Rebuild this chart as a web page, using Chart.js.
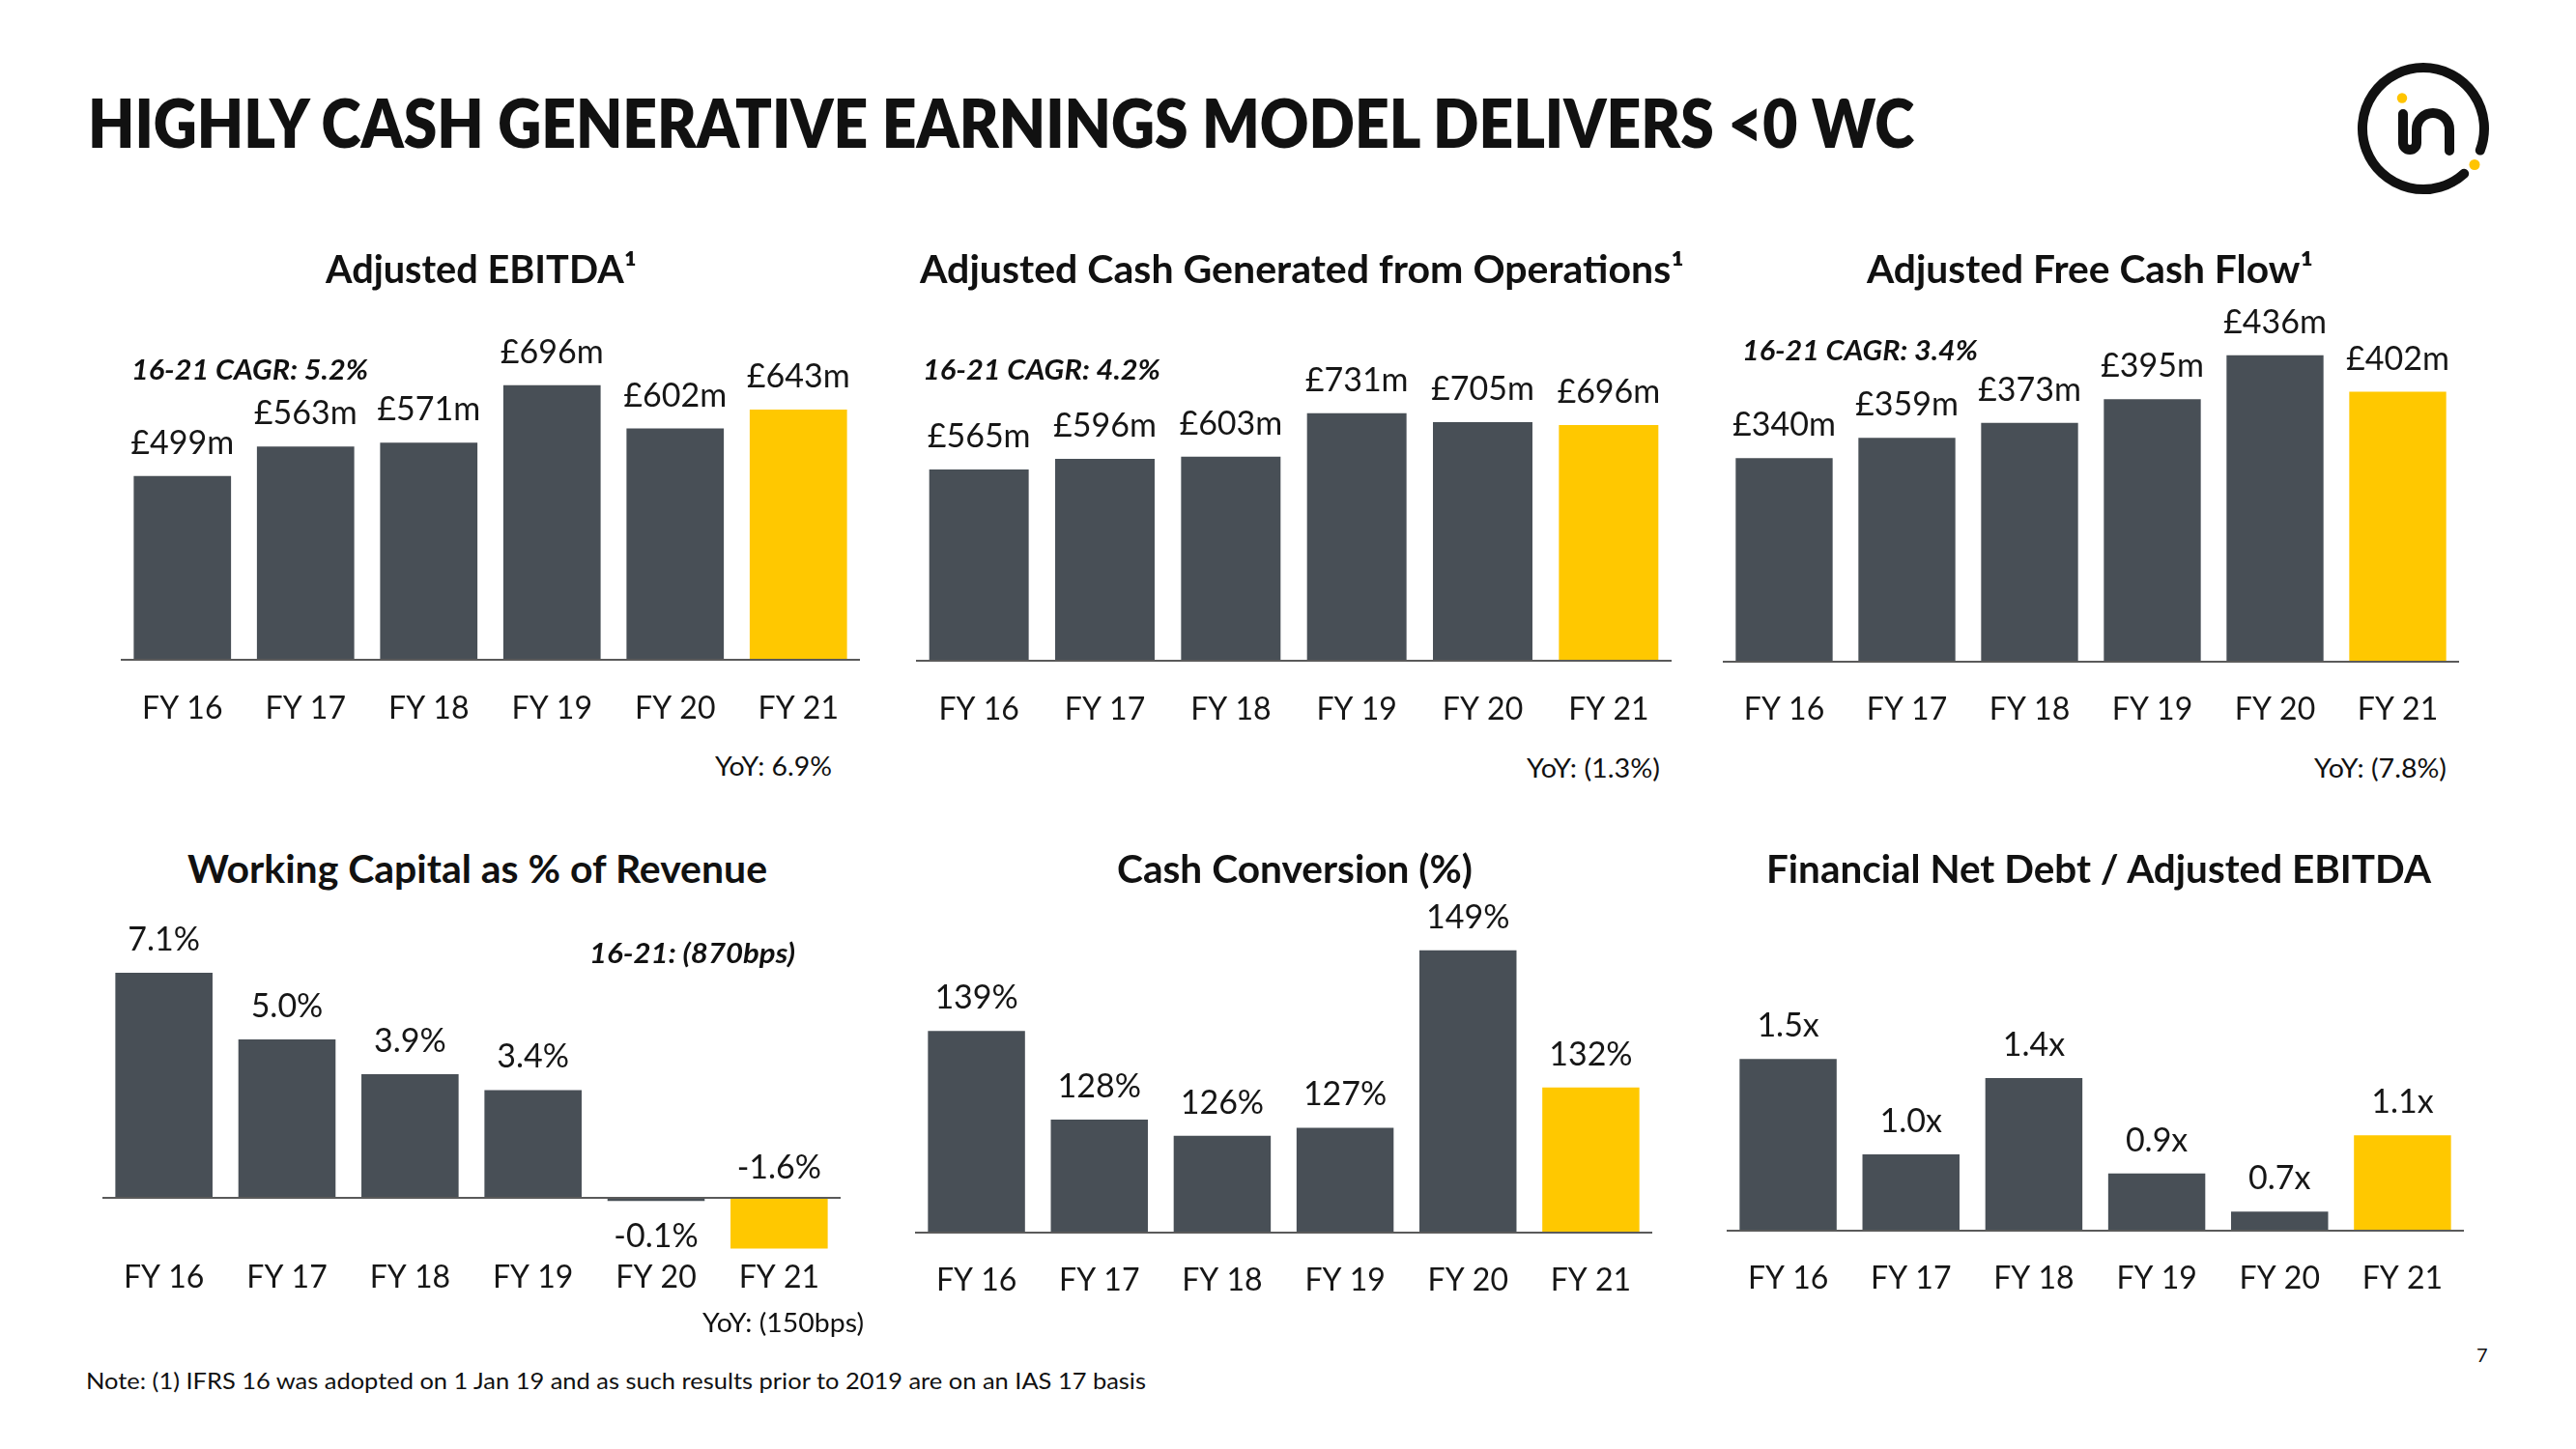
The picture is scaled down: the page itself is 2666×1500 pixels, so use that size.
<!DOCTYPE html>
<html><head><meta charset="utf-8">
<script src="https://cdn.jsdelivr.net/npm/chart.js@4.4.0/dist/chart.umd.min.js"></script>
<style>
html,body{margin:0;padding:0;background:#fff;}
#page{position:relative;width:2666px;height:1500px;overflow:hidden;background:#fff;font-family:Lato,'Open Sans',sans-serif;color:#111;}
.t{position:absolute;white-space:nowrap;line-height:1;transform-origin:0 0;}
canvas{position:absolute;}
</style></head><body><div id="page">
<svg style="position:absolute;left:2430px;top:55px" width="160" height="160" viewBox="2430 55 160 160">
<path d="M2550.2,179.8 A63,63 0 1,1 2566.8,155.6" fill="none" stroke="#111" stroke-width="10" stroke-linecap="round"/>
<path d="M2487,118 V148 A7,7 0 0,0 2501,148 V134 A17,17 0 0,1 2535,134 V156" fill="none" stroke="#111" stroke-width="10" stroke-linecap="round" stroke-linejoin="round"/>
<circle cx="2486" cy="101.5" r="5.2" fill="#FFC400"/>
<circle cx="2561" cy="170.5" r="5.5" fill="#FFC400"/>
</svg>
<canvas id="c1" width="765" height="463" style="left:125px;top:300px"></canvas>
<canvas id="c2" width="782" height="464" style="left:948px;top:300px"></canvas>
<canvas id="c3" width="762" height="465" style="left:1783px;top:300px"></canvas>
<canvas id="c4" width="764" height="450" style="left:106px;top:930px"></canvas>
<canvas id="c5" width="763" height="436" style="left:947px;top:920px"></canvas>
<canvas id="c6" width="763" height="434" style="left:1787px;top:920px"></canvas>
</div>
<script>
// ---- data ----
const categories = ['FY 16','FY 17','FY 18','FY 19','FY 20','FY 21'];
const ebitda = [499, 563, 571, 696, 602, 643];
const cashFromOps = [565, 596, 603, 731, 705, 696];
const freeCashFlow = [340, 359, 373, 395, 436, 402];
const workingCapitalPct = [7.1, 5.0, 3.9, 3.4, -0.1, -1.6];
const cashConversionPct = [139, 128, 126, 127, 149, 132];
const netDebtToEbitda = [1.5, 1.0, 1.4, 0.9, 0.7, 1.1];

const GRAY = '#484F56', YELLOW = '#FFC800', INK = '#161616';

// ---- static text ----
const page = document.getElementById('page');
function addText(str, x, cy, w, size, weight, style) {
  const s = document.createElement('span');
  s.className = 't';
  s.textContent = str;
  s.style.fontSize = size + 'px';
  s.style.fontWeight = weight || 400;
  s.style.fontStyle = style || 'normal';
  s.style.left = x + 'px';
  s.style.top = (cy - 0.529 * size) + 'px';
  page.appendChild(s);
  if (w) { const nat = s.getBoundingClientRect().width; s.style.transform = 'scaleX(' + (w / nat) + ')'; }
  return s;
}
addText('HIGHLY CASH GENERATIVE EARNINGS MODEL DELIVERS <0 WC', 91, 128, 1890, 70, 800);
addText('Adjusted EBITDA\u00B9', 337, 279, 322, 40, 700);
addText('Adjusted Cash Generated from Operations\u00B9', 952, 279, 791, 40, 700);
addText('Adjusted Free Cash Flow\u00B9', 1932, 279, 462, 40, 700);
addText('Working Capital as % of Revenue', 194, 900, 600, 40, 700);
addText('Cash Conversion (%)', 1156, 900, 368, 40, 700);
addText('Financial Net Debt / Adjusted EBITDA', 1828, 900, 688, 40, 700);
addText('16-21 CAGR: 5.2%', 136, 382, 245, 29, 700, 'italic');
addText('16-21 CAGR: 4.2%', 955, 382, 246, 29, 700, 'italic');
addText('16-21 CAGR: 3.4%', 1803, 362, 244, 29, 700, 'italic');
addText('16-21: (870bps)', 610, 986, 213, 29, 700, 'italic');
addText('YoY: 6.9%', 740, 793, 121, 27);
addText('YoY: (1.3%)', 1580, 795, 138, 27);
addText('YoY: (7.8%)', 2395, 795, 137, 27);
addText('YoY: (150bps)', 727, 1369, 167, 27);
addText('Note: (1) IFRS 16 was adopted on 1 Jan 19 and as such results prior to 2019 are on an IAS 17 basis', 89, 1430, 1097, 23);
addText('7', 2563, 1403, 0, 20);

// ---- charts ----
function makeLabelPlugin(format, anchors) {
  return {
    id: 'barLabels',
    afterDatasetsDraw(chart) {
      const {ctx, chartArea} = chart;
      const yScale = chart.scales.y;
      const by = yScale.getBasePixel();
      ctx.save();
      ctx.strokeStyle = '#5a5a5a';
      ctx.lineWidth = 2;
      ctx.beginPath();
      ctx.moveTo(chartArea.left, by);
      ctx.lineTo(chartArea.right, by);
      ctx.stroke();
      ctx.font = '34px Lato';
      ctx.fillStyle = INK;
      ctx.textAlign = 'center';
      ctx.textBaseline = 'alphabetic';
      const data = chart.data.datasets[0].data;
      chart.getDatasetMeta(0).data.forEach((el, i) => {
        const v = data[i];
        const anchor = (anchors && anchors[i]) || 'end';
        let y;
        if (v >= 0) y = el.y - 23;
        else if (anchor === 'base') y = el.base - 20;
        else y = el.y + 48;
        ctx.fillText(format(v), el.x, y);
      });
      ctx.restore();
    }
  };
}

function makeChart(id, values, yMin, yMax, format, tickPad, anchors) {
  const last = values.length - 1;
  new Chart(document.getElementById(id), {
    type: 'bar',
    data: {
      labels: categories,
      datasets: [{
        data: values,
        backgroundColor: (c) => c.dataIndex === last ? YELLOW : GRAY,
        borderWidth: 0,
        barPercentage: 0.79,
        categoryPercentage: 1
      }]
    },
    options: {
      responsive: false,
      animation: false,
      devicePixelRatio: 1,
      layout: {padding: 0},
      plugins: {legend: {display: false}, tooltip: {enabled: false}, title: {display: false}},
      scales: {
        x: {
          grid: {display: false, drawTicks: false},
          border: {display: false},
          ticks: {color: INK, font: {family: 'Lato', size: 32}, padding: tickPad, maxRotation: 0, autoSkip: false},
          afterFit: (s) => { s.height = 80; s.paddingLeft = 0; s.paddingRight = 0; }
        },
        y: {display: false, min: yMin, max: yMax}
      }
    },
    plugins: [makeLabelPlugin(format, anchors)]
  });
}

const money = (v) => '\u00A3' + v + 'm';
makeChart('c1', ebitda, 100, 902.9, money, 31);
makeChart('c2', cashFromOps, 0, 1095.6, money, 31);
makeChart('c3', freeCashFlow, 150, 497.2, money, 30);
makeChart('c4', workingCapitalPct, -1.829, 9.451, (v) => v.toFixed(1) + '%', 3, ['end','end','end','end','end','base']);
makeChart('c5', cashConversionPct, 114, 156.63, (v) => v + '%', 30);
makeChart('c6', netDebtToEbitda, 0.6, 2.3924, (v) => v.toFixed(1) + 'x', 30);
</script>
</body></html>
